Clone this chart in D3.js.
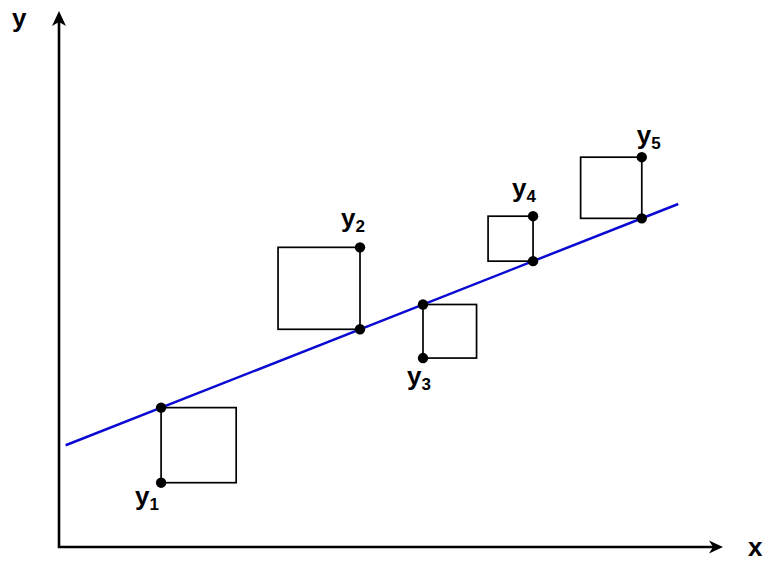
<!DOCTYPE html>
<html>
<head>
<meta charset="utf-8">
<script src="https://cdn.jsdelivr.net/npm/d3@7"></script>
<style>
  html, body { margin: 0; padding: 0; background: #fff; }
  svg { display: block; }
  text { font-family: "Liberation Sans", Arial, sans-serif; font-weight: bold; fill: #000; }
</style>
</head>
<body>
<svg id="chart" width="774" height="571"></svg>
<script>
// ---- data ----
const pointLabels = ["1", "2", "3", "4", "5"];
const xValues = [1.54, 4.54, 5.49, 7.15, 8.79];
const yObserved = [0.97, 4.52, 2.85, 4.99, 5.88];
const lineIntercept = 1.496;
const lineSlope = 0.3938;
const lineXExtent = [0.1, 9.34];
const axisLabels = ["x", "y"];

// label offsets (layout, px) relative to observed point
const labelOffsets = [[-26, 22], [-19, -20], [-16, 27], [-21, -19], [-5, -13]];

const svg = d3.select("#chart");
const x = d3.scaleLinear().domain([0, 10]).range([59, 722]);
const y = d3.scaleLinear().domain([0, 8.07]).range([547, 12]);
const fit = v => lineIntercept + lineSlope * v;

// axes
const axisG = svg.append("g");
axisG.append("line")
  .attr("x1", x(0) - 1).attr("y1", y(0)).attr("x2", x(10) - 6).attr("y2", y(0))
  .attr("stroke", "#000").attr("stroke-width", 2.6);
axisG.append("line")
  .attr("x1", x(0)).attr("y1", y(0) + 1).attr("x2", x(0)).attr("y2", y(8.07) + 6)
  .attr("stroke", "#000").attr("stroke-width", 2.6);
// arrowheads
const tx = x(10) + 1, ty = y(0);
axisG.append("path")
  .attr("d", `M${tx},${ty} L${tx - 14},${ty - 6.5} L${tx - 10},${ty} L${tx - 14},${ty + 6.5} Z`)
  .attr("fill", "#000");
const ux = x(0), uy = y(8.07) - 1;
axisG.append("path")
  .attr("d", `M${ux},${uy} L${ux - 7},${uy + 15} L${ux},${uy + 11} L${ux + 7},${uy + 15} Z`)
  .attr("fill", "#000");

svg.append("text").attr("x", 748).attr("y", 556).attr("font-size", 26).text(axisLabels[0]);
svg.append("text").attr("x", 12).attr("y", 27).attr("font-size", 26).text(axisLabels[1]);

// squares of residuals
const data = xValues.map((xv, i) => ({
  label: pointLabels[i], x: xv, y: yObserved[i], f: fit(xv), off: labelOffsets[i]
}));

svg.append("g").selectAll("rect").data(data).enter().append("rect")
  .each(function(d) {
    const px = x(d.x), py = y(d.y), pf = y(d.f);
    const side = Math.abs(py - pf);
    const below = py > pf;
    d3.select(this)
      .attr("x", below ? px : px - side)
      .attr("y", Math.min(py, pf))
      .attr("width", side).attr("height", side);
  })
  .attr("fill", "none").attr("stroke", "#000").attr("stroke-width", 1.7);

// regression line
svg.append("line")
  .attr("x1", x(lineXExtent[0])).attr("y1", y(fit(lineXExtent[0])))
  .attr("x2", x(lineXExtent[1])).attr("y2", y(fit(lineXExtent[1])))
  .attr("stroke", "#0a0ad2").attr("stroke-width", 2.5);

// dots: observed and fitted
const dots = svg.append("g");
dots.selectAll("circle.obs").data(data).enter().append("circle")
  .attr("class", "obs").attr("cx", d => x(d.x)).attr("cy", d => y(d.y)).attr("r", 5.2).attr("fill", "#000");
dots.selectAll("circle.fit").data(data).enter().append("circle")
  .attr("class", "fit").attr("cx", d => x(d.x)).attr("cy", d => y(d.f)).attr("r", 5.2).attr("fill", "#000");

// labels y_i
const lab = svg.append("g").selectAll("text").data(data).enter().append("text")
  .attr("x", d => x(d.x) + d.off[0]).attr("y", d => y(d.y) + d.off[1])
  .attr("font-size", 26);
lab.append("tspan").text("y");
lab.append("tspan").attr("font-size", 17).attr("dy", 5).text(d => d.label);
</script>
</body>
</html>
